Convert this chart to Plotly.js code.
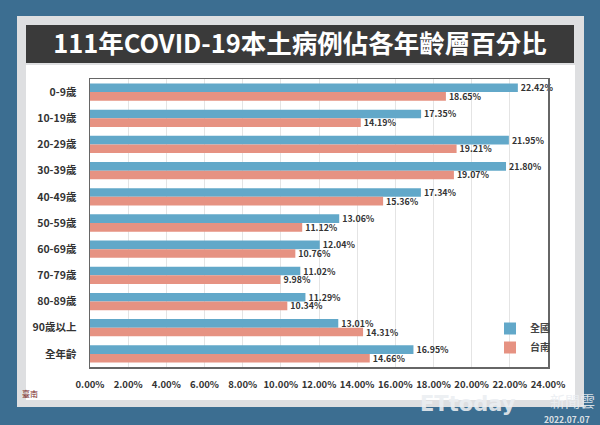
<!DOCTYPE html>
<html>
<head>
<meta charset="utf-8">
<script src="https://cdn.plot.ly/plotly-3.0.1.min.js"></script>
<style>
html,body{margin:0;padding:0;background:#3c6e91;}
#chart{width:600px;height:425px;}
</style>
</head>
<body>
<div id="chart"></div>
<script>
const categories = ["0-9歲","10-19歲","20-29歲","30-39歲","40-49歲","50-59歲","60-69歲","70-79歲","80-89歲","90歲以上","全年齡"];
const nationalValues = [22.42,17.35,21.95,21.80,17.34,13.06,12.04,11.02,11.29,13.01,16.95];
const tainanValues = [18.65,14.19,19.21,19.07,15.36,11.12,10.76,9.98,10.34,14.31,14.66];
const seriesNames = ["全國","台南"];
const tickValues = [0,2,4,6,8,10,12,14,16,18,20,22,24];
const titleText = "111年COVID-19本土病例佔各年齡層百分比";

const W = 600, H = 425;
const L = 90, R = 548, T = 79, B = 367;
const px = x => (x - L) / (R - L);
const py = y => (B - y) / (B - T);

const FONT = '"Noto Sans CJK TC", "Noto Sans", sans-serif';

const labelFont = {family: FONT, size: 8.8, color: '#333333', weight: 700};

const traces = [
  {
    type: 'bar', orientation: 'h', name: seriesNames[0],
    y: categories, x: nationalValues,
    marker: {color: '#62a8c9'},
    text: nationalValues.map(v => v.toFixed(2) + '%'),
    textposition: 'outside', cliponaxis: false, constraintext: 'none',
    textfont: labelFont, hoverinfo: 'skip'
  },
  {
    type: 'bar', orientation: 'h', name: seriesNames[1],
    y: categories, x: tainanValues,
    marker: {color: '#e69282'},
    text: tainanValues.map(v => v.toFixed(2) + '%'),
    textposition: 'outside', cliponaxis: false, constraintext: 'none',
    textfont: labelFont, hoverinfo: 'skip'
  }
];

const shapes = [
  {type:'rect', xref:'paper', yref:'paper', x0:px(17), x1:px(584), y0:py(16), y1:py(407),
   fillcolor:'#dedfe1', line:{width:0}, layer:'below'},
  {type:'rect', xref:'paper', yref:'paper', x0:px(26), x1:px(575), y0:py(65), y1:py(400),
   fillcolor:'#ffffff', line:{width:0}, layer:'below'},
  {type:'rect', xref:'paper', yref:'paper', x0:px(26), x1:px(574), y0:py(25), y1:py(63),
   fillcolor:'#3a3a3a', line:{width:0}, layer:'below'}
];

const annotations = [
  {xref:'paper', yref:'paper', x:px(418), y:py(404), xanchor:'left', yanchor:'middle',
   text:'<b>ETtoday</b>', showarrow:false,
   font:{family:'"DejaVu Sans", sans-serif', size:21, color:'rgba(235,238,242,0.9)'}},
  {xref:'paper', yref:'paper', x:px(597), y:py(400), xanchor:'right', yanchor:'middle',
   text:'新聞雲', showarrow:false,
   font:{family:FONT, size:15, color:'rgba(235,238,242,0.9)'}},
  {xref:'paper', yref:'paper', x:px(592), y:py(419), xanchor:'right', yanchor:'middle',
   text:'<b>2022.07.07</b>', showarrow:false,
   font:{family:FONT, size:8.5, color:'rgba(240,240,240,0.9)'}},
  {xref:'paper', yref:'paper', x:px(20), y:py(393), xanchor:'left', yanchor:'middle',
   text:'臺南', showarrow:false,
   font:{family:FONT, size:8, color:'#7a2a2a'}}
];

const layout = {
  width: W, height: H,
  paper_bgcolor: '#3c6e91',
  plot_bgcolor: '#ffffff',
  margin: {l: L, r: W - R, t: T, b: H - B, pad: 0},
  title: {
    text: '<b>' + titleText + '</b>',
    font: {family: FONT, size: 25.5, color: '#ffffff'},
    x: 0.5, xref: 'container', xanchor: 'center',
    y: 1 - 44/H, yref: 'container', yanchor: 'middle'
  },
  barmode: 'group',
  bargap: 0.34,
  bargroupgap: 0,
  showlegend: true,
  legend: {
    x: px(490), y: py(314), xanchor: 'left', yanchor: 'top',
    bgcolor: 'rgba(0,0,0,0)', orientation: 'v',
    font: {family: FONT, size: 10, color: '#444444', weight: 700},
    itemwidth: 30, tracegroupgap: 2
  },
  xaxis: {
    range: [0, 24], tickvals: tickValues,
    ticktext: tickValues.map(v => v.toFixed(2) + '%'),
    showgrid: true, gridcolor: '#e4e4e4', gridwidth: 1,
    zeroline: false,
    showline: true, linecolor: '#666666', linewidth: 1.5, mirror: true,
    ticks: 'outside', ticklen: 8, tickcolor: 'rgba(0,0,0,0)',
    tickfont: {family: FONT, size: 9.5, color: '#333333', weight: 700},
    fixedrange: true
  },
  yaxis: {
    autorange: 'reversed', type: 'category',
    showline: true, linecolor: '#666666', linewidth: 1.5, mirror: true,
    showgrid: false, zeroline: false,
    ticks: 'outside', ticklen: 10, tickcolor: 'rgba(0,0,0,0)',
    tickfont: {family: FONT, size: 10.5, color: '#333333', weight: 700},
    fixedrange: true
  },
  shapes: shapes,
  annotations: annotations
};

Plotly.newPlot('chart', traces, layout, {displayModeBar: false, staticPlot: true});
</script>
</body>
</html>
